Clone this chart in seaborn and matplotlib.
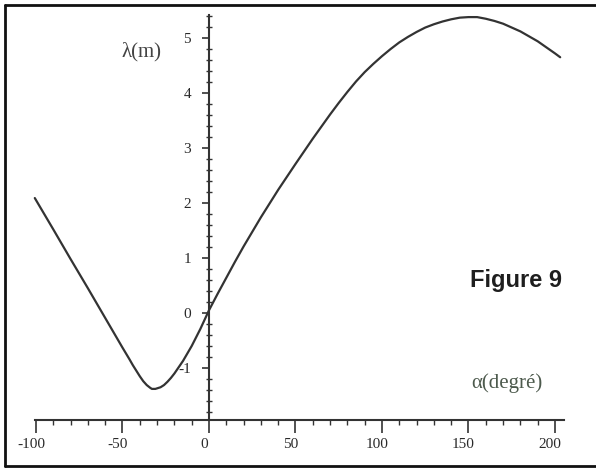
import matplotlib
matplotlib.use("Agg")
import matplotlib.pyplot as plt
import matplotlib.transforms as mtransforms
from matplotlib.ticker import FixedLocator, FuncFormatter
import numpy as np
import pandas as pd
import seaborn as sns

# ---- data ----
alpha_deg = [-100.7, -90, -80, -70, -60, -50, -46, -44, -42, -40, -38, -36, -34, -33,
             -32, -31, -30, -28, -26, -24, -22, -20, -15, -10, -5, 0, 5, 10, 15, 20,
             30, 40, 50, 60, 70, 75, 80, 85, 90, 95, 100, 105, 110, 115, 120, 125,
             130, 135, 140, 145, 150, 155, 160, 165, 170, 175, 180, 185, 190, 195,
             200, 203]
lambda_m = [2.09, 1.52, 0.98, 0.45, -0.09, -0.63, -0.84, -0.95, -1.05, -1.15, -1.24,
            -1.31, -1.36, -1.38, -1.38, -1.38, -1.37, -1.35, -1.31, -1.25, -1.18,
            -1.10, -0.87, -0.60, -0.29, 0.05, 0.35, 0.64, 0.93, 1.21, 1.74, 2.24,
            2.71, 3.17, 3.61, 3.82, 4.02, 4.21, 4.38, 4.53, 4.67, 4.80, 4.92, 5.02,
            5.11, 5.19, 5.25, 5.30, 5.34, 5.37, 5.38, 5.38, 5.35, 5.31, 5.26, 5.19,
            5.12, 5.03, 4.94, 4.83, 4.72, 4.65]
x_major = [-100, -50, 0, 50, 100, 150, 200]
y_major = [-1, 0, 1, 2, 3, 4, 5]
x_label = "α(degré)"
y_label = "λ(m)"
caption = "Figure 9"

sns.set_theme(style="white")
plt.rcParams["axes.unicode_minus"] = False
plt.rcParams["font.family"] = ["Liberation Serif", "DejaVu Serif"]

W, H = 596, 468
fig = plt.figure(figsize=(W / 100, H / 100), dpi=100)
ax = fig.add_axes([0, 0, 1, 1])
ax.set_facecolor("white")

df = pd.DataFrame({"alpha": alpha_deg, "lam": lambda_m})
sns.lineplot(data=df, x="alpha", y="lam", ax=ax, color="#333333", linewidth=1.6,
             sort=False, estimator=None)
for ln in ax.lines:
    ln.set_solid_joinstyle("round")
    ln.set_solid_capstyle("round")

# pixel mapping: x=0 at px 209, 1.73 px/unit ; y=0 at px 313, 55 px/unit
ax.set_xlim((0 - 209) / 1.73, (W - 209) / 1.73)
ax.set_ylim((313 - H) / 55.0, 313 / 55.0)
ax.set_xlabel("")
ax.set_ylabel("")

axis_col = "#333333"
y_axis_x = 0
x_axis_y = -1.95
for s in ["top", "right"]:
    ax.spines[s].set_visible(False)
ax.spines["left"].set_position(("data", y_axis_x))
ax.spines["bottom"].set_position(("data", x_axis_y))
ax.spines["left"].set_bounds(x_axis_y, 5.42)
ax.spines["bottom"].set_bounds(-100.8, 205)
for s in ["left", "bottom"]:
    ax.spines[s].set_color(axis_col)
    ax.spines[s].set_linewidth(1.5)

ax.xaxis.set_major_locator(FixedLocator(x_major))
ax.xaxis.set_minor_locator(FixedLocator([v for v in range(-100, 201, 10) if v % 50 != 0]))
ax.yaxis.set_major_locator(FixedLocator(y_major))
ax.yaxis.set_minor_locator(FixedLocator([round(v, 1) for v in np.arange(-1.8, 5.41, 0.2)
                                         if abs(v - round(v)) > 1e-6]))
fmt = FuncFormatter(lambda v, p: f"{int(v)}")
ax.xaxis.set_major_formatter(fmt)
ax.yaxis.set_major_formatter(fmt)

ax.tick_params(axis="x", which="major", direction="out", length=9.5, width=1.2,
               color=axis_col, pad=3, labelsize=11, labelcolor="#2a2a2a", bottom=True)
ax.tick_params(axis="x", which="minor", direction="out", length=3.5, width=1.0,
               color=axis_col, bottom=True)
ax.tick_params(axis="y", which="major", direction="out", length=5, width=1.2,
               color=axis_col, pad=8, labelsize=11, labelcolor="#2a2a2a", left=True)
ax.tick_params(axis="y", which="minor", direction="inout", length=4.5, width=1.0,
               color=axis_col, left=True)

shift = mtransforms.ScaledTranslation(-5 / 100, 0, fig.dpi_scale_trans)
for lab in ax.get_xticklabels():
    lab.set_transform(lab.get_transform() + shift)

# labels
fig.text(142 / W, 1 - 52 / H, y_label, ha="center", va="center", fontsize=15,
         color="#444444")
fig.text(507 / W, 1 - 383 / H, x_label, ha="center", va="center", fontsize=15,
         color="#4d5a4d")
fig.text(516 / W, 1 - 281 / H, caption, ha="center", va="center", fontsize=17,
         fontweight="bold", family=["Liberation Sans", "DejaVu Sans"], color="#1e1e1e")

# frame (top, left, bottom visible; right side cropped in the reference)
frame_kw = dict(transform=fig.transFigure, color="#111111", linewidth=2.0, clip_on=False)
fig.add_artist(plt.Line2D([5 / W, 1.0], [1 - 5 / H, 1 - 5 / H], **frame_kw))
fig.add_artist(plt.Line2D([5 / W, 5 / W], [1 - 5 / H, 1 - 466 / H], **frame_kw))
fig.add_artist(plt.Line2D([5 / W, 1.0], [1 - 466 / H, 1 - 466 / H], **frame_kw))

fig.savefig("out.png", dpi=100, facecolor="white")
